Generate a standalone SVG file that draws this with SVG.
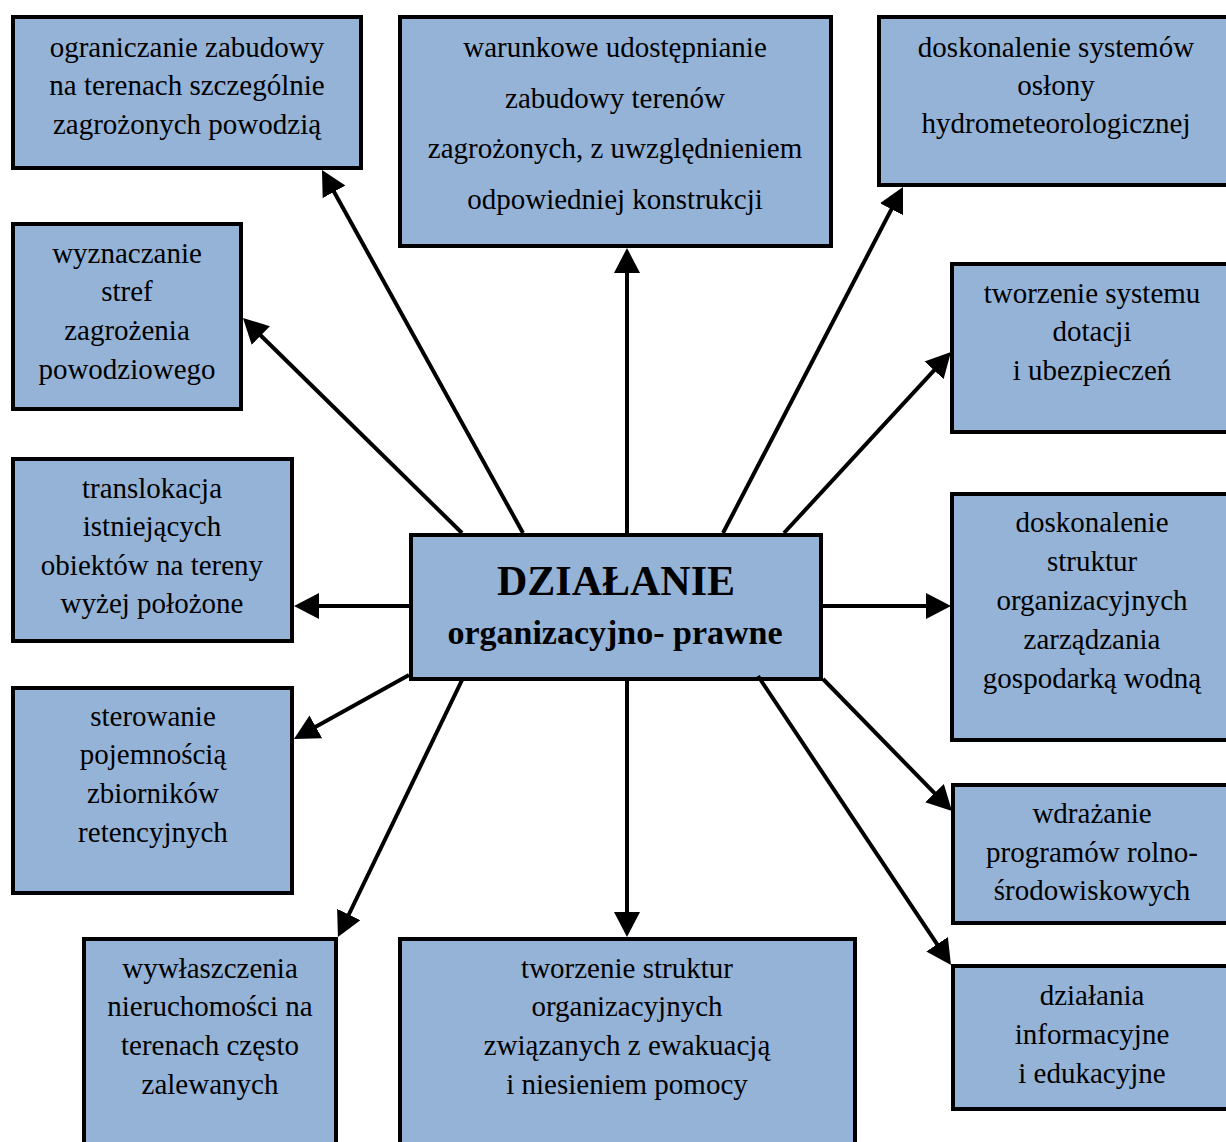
<svg xmlns="http://www.w3.org/2000/svg" width="1226" height="1142" viewBox="0 0 1226 1142">
<style>
.box{fill:#95B3D7;stroke:#000;stroke-width:4}
.t{font-family:"Liberation Serif","Times New Roman",serif;font-size:29px;fill:#000;text-anchor:middle}
.h1{font-family:"Liberation Serif","Times New Roman",serif;font-size:42px;font-weight:bold;fill:#000;text-anchor:middle}
.h2{font-family:"Liberation Serif","Times New Roman",serif;font-size:34px;font-weight:bold;fill:#000;text-anchor:middle}
.c{stroke:#000;stroke-width:4;fill:none;marker-end:url(#ah)}
</style>
<defs>
<marker id="ah" markerUnits="userSpaceOnUse" viewBox="0 0 25 26" markerWidth="25" markerHeight="26" refX="15" refY="13" orient="auto">
<path d="M0,0 L25,13 L0,26 z" fill="#000"/>
</marker>
</defs>
<rect width="1226" height="1142" fill="#fff"/>
<g id="n1"><rect class="box" x="13" y="17" width="348" height="151"/>
<text class="t" x="187" y="57">ograniczanie zabudowy</text>
<text class="t" x="187" y="95">na terenach szczególnie</text>
<text class="t" x="187" y="134">zagrożonych powodzią</text></g>
<g id="n2"><rect class="box" x="400" y="17" width="431" height="229"/>
<text class="t" x="615" y="57">warunkowe udostępnianie</text>
<text class="t" x="615" y="108">zabudowy terenów</text>
<text class="t" x="615" y="158">zagrożonych, z uwzględnieniem</text>
<text class="t" x="615" y="209">odpowiedniej konstrukcji</text></g>
<g id="n3"><rect class="box" x="879" y="17" width="360" height="168"/>
<text class="t" x="1056" y="57">doskonalenie systemów</text>
<text class="t" x="1056" y="95">osłony</text>
<text class="t" x="1056" y="133">hydrometeorologicznej</text></g>
<g id="n4"><rect class="box" x="13" y="224" width="228" height="185"/>
<text class="t" x="127" y="263">wyznaczanie</text>
<text class="t" x="127" y="301">stref</text>
<text class="t" x="127" y="340">zagrożenia</text>
<text class="t" x="127" y="379">powodziowego</text></g>
<g id="n5"><rect class="box" x="952" y="264" width="290" height="168"/>
<text class="t" x="1092" y="303">tworzenie systemu</text>
<text class="t" x="1092" y="341">dotacji</text>
<text class="t" x="1092" y="380">i ubezpieczeń</text></g>
<g id="n6"><rect class="box" x="13" y="459" width="279" height="182"/>
<text class="t" x="152" y="498">translokacja</text>
<text class="t" x="152" y="536">istniejących</text>
<text class="t" x="152" y="575">obiektów na tereny</text>
<text class="t" x="152" y="613">wyżej położone</text></g>
<g id="center"><rect class="box" x="411" y="535" width="410" height="144"/>
<text class="h1" x="616" y="595">DZIAŁANIE</text>
<text class="h2" x="615" y="644">organizacyjno- prawne</text></g>
<g id="n7"><rect class="box" x="952" y="494" width="290" height="246"/>
<text class="t" x="1092" y="532">doskonalenie</text>
<text class="t" x="1092" y="571">struktur</text>
<text class="t" x="1092" y="610">organizacyjnych</text>
<text class="t" x="1092" y="649">zarządzania</text>
<text class="t" x="1092" y="688">gospodarką wodną</text></g>
<g id="n8"><rect class="box" x="13" y="688" width="279" height="205"/>
<text class="t" x="153" y="726">sterowanie</text>
<text class="t" x="153" y="764">pojemnością</text>
<text class="t" x="153" y="803">zbiorników</text>
<text class="t" x="153" y="842">retencyjnych</text></g>
<g id="n9"><rect class="box" x="953" y="785" width="290" height="138"/>
<text class="t" x="1092" y="823">wdrażanie</text>
<text class="t" x="1092" y="862">programów rolno-</text>
<text class="t" x="1092" y="900">środowiskowych</text></g>
<g id="n10"><rect class="box" x="953" y="966" width="290" height="143"/>
<text class="t" x="1092" y="1005">działania</text>
<text class="t" x="1092" y="1044">informacyjne</text>
<text class="t" x="1092" y="1083">i edukacyjne</text></g>
<g id="n11"><rect class="box" x="84" y="939" width="252" height="220"/>
<text class="t" x="210" y="978">wywłaszczenia</text>
<text class="t" x="210" y="1016">nieruchomości na</text>
<text class="t" x="210" y="1055">terenach często</text>
<text class="t" x="210" y="1094">zalewanych</text></g>
<g id="n12"><rect class="box" x="400" y="939" width="455" height="220"/>
<text class="t" x="627" y="978">tworzenie struktur</text>
<text class="t" x="627" y="1016">organizacyjnych</text>
<text class="t" x="627" y="1055">związanych z ewakuacją</text>
<text class="t" x="627" y="1094">i niesieniem pomocy</text></g>
<g id="connectors">
<line class="c" x1="523" y1="533" x2="326.8" y2="178.7"/>
<line class="c" x1="627" y1="533" x2="627" y2="258"/>
<line class="c" x1="723" y1="533" x2="898.4" y2="195.9"/>
<line class="c" x1="462" y1="533" x2="250.1" y2="325"/>
<line class="c" x1="784" y1="533" x2="944.2" y2="359.3"/>
<line class="c" x1="409" y1="606" x2="304" y2="606"/>
<line class="c" x1="823" y1="606" x2="941" y2="606"/>
<line class="c" x1="409" y1="675" x2="302.7" y2="734.1"/>
<line class="c" x1="823" y1="679" x2="945" y2="803.9"/>
<line class="c" x1="758" y1="676" x2="945.4" y2="956.7"/>
<line class="c" x1="463" y1="678" x2="342.3" y2="928"/>
<line class="c" x1="627" y1="681" x2="627" y2="927"/>
</g>
</svg>
